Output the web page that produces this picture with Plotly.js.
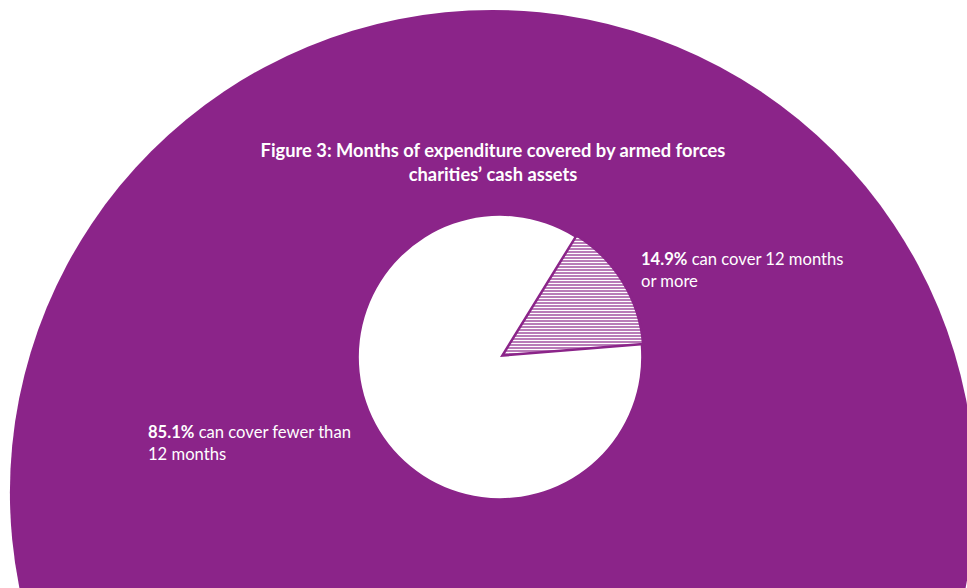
<!DOCTYPE html>
<html>
<head>
<meta charset="utf-8">
<script src="https://cdn.plot.ly/plotly-3.0.1.min.js"></script>
<style>html,body{margin:0;padding:0;background:#fff;}#chart{width:967px;height:588px;}</style>
</head>
<body>
<div id="chart"></div>
<script>
var categories = ["can cover 12 months or more", "can cover fewer than 12 months"];
var shares = [14.9, 85.1];
var shareLabels = ["14.9%", "85.1%"];
var titleText = "Figure 3: Months of expenditure covered by armed forces<br>charities’ cash assets";

var PURPLE = "#8b2489";
var W = 967, H = 588;
function px(x){ return x / W; }
function py(y){ return 1 - y / H; }

var trace = {
  type: "pie",
  labels: categories,
  values: shares,
  sort: false,
  direction: "clockwise",
  rotation: 31.7,
  pull: [0.02, 0],
  textinfo: "none",
  hoverinfo: "label+percent",
  showlegend: false,
  domain: {x: [px(356), px(644)], y: [py(501), py(213)]},
  marker: {
    colors: [PURPLE, "#ffffff"],
    line: {color: [PURPLE, "#ffffff"], width: [2.5, 0]},
    pattern: {shape: ["-", ""], fgcolor: "#ffffff", bgcolor: PURPLE, size: 3, solidity: 0.6}
  }
};

var fontFam = "Lato, 'Open Sans', sans-serif";
var layout = {
  width: W, height: H,
  margin: {l: 0, r: 0, t: 0, b: 0},
  paper_bgcolor: "#ffffff",
  title: {text: "<b>" + titleText + "</b>", x: px(493), xanchor: "center", y: py(157), yanchor: "middle",
          font: {family: fontFam, size: 18.3, color: "#ffffff"}},
  shapes: [{
    type: "circle", xref: "paper", yref: "paper", layer: "below",
    x0: px(9.9), x1: px(975.1), y0: py(9.9), y1: py(975.1),
    fillcolor: PURPLE, line: {width: 0}
  }],
  annotations: [
    {xref: "paper", yref: "paper", x: px(639), y: py(270), xanchor: "left", yanchor: "middle", align: "left",
     showarrow: false, font: {family: fontFam, size: 16.6, color: "#ffffff"},
     text: "<b>" + shareLabels[0] + "</b> " + "can cover 12 months<br>or more"},
    {xref: "paper", yref: "paper", x: px(146), y: py(443), xanchor: "left", yanchor: "middle", align: "left",
     showarrow: false, font: {family: fontFam, size: 16.6, color: "#ffffff"},
     text: "<b>" + shareLabels[1] + "</b> " + "can cover fewer than<br>12 months"}
  ]
};

Plotly.newPlot("chart", [trace], layout, {displayModeBar: false, staticPlot: true});
</script>
</body>
</html>
